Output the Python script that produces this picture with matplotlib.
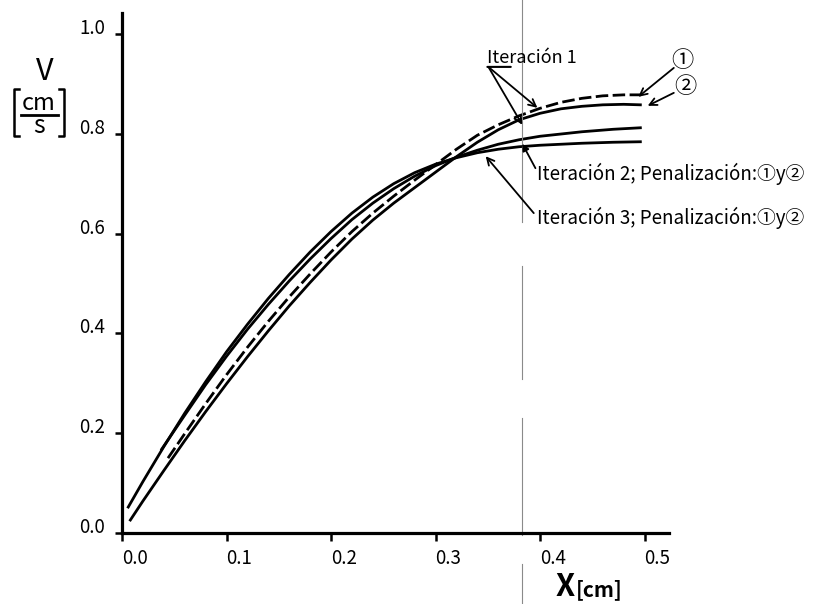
import matplotlib
matplotlib.use("Agg")
import matplotlib.pyplot as plt
from matplotlib.lines import Line2D

# ---------------------------------------------------
# FONTS
# ---------------------------------------------------

plt.rcParams['font.family'] = ['Noto Sans CJK SC', 'DejaVu Sans']

# ---------------------------------------------------
# DATA
# ---------------------------------------------------

# Iteración 1, curva (1) - discontinua
x_it1_a = [0.044, 0.06, 0.08, 0.10, 0.12, 0.14, 0.16, 0.18, 0.20, 0.22, 0.24, 0.26,
           0.28, 0.30, 0.32, 0.34, 0.36, 0.38, 0.40, 0.42, 0.44, 0.46, 0.48, 0.496]
v_it1_a = [0.150, 0.199, 0.259, 0.317, 0.372, 0.424, 0.473, 0.519, 0.563, 0.604, 0.641, 0.675,
           0.707, 0.738, 0.769, 0.797, 0.818, 0.836, 0.851, 0.863, 0.871, 0.876, 0.878, 0.878]

# Iteración 1, curva (2) - continua
x_it1_b = [0.008, 0.02, 0.04, 0.06, 0.08, 0.10, 0.12, 0.14, 0.16, 0.18, 0.20, 0.22, 0.24,
           0.26, 0.28, 0.30, 0.32, 0.34, 0.36, 0.38, 0.40, 0.42, 0.44, 0.46, 0.48, 0.496]
v_it1_b = [0.026, 0.064, 0.125, 0.185, 0.243, 0.299, 0.353, 0.405, 0.455, 0.502, 0.547, 0.589, 0.627,
           0.661, 0.692, 0.723, 0.754, 0.783, 0.808, 0.828, 0.841, 0.850, 0.855, 0.858, 0.859, 0.858]

# Iteración 2
x_it2 = [0.038, 0.06, 0.08, 0.10, 0.12, 0.14, 0.16, 0.18, 0.20, 0.22, 0.24, 0.26,
         0.28, 0.30, 0.32, 0.34, 0.36, 0.38, 0.40, 0.44, 0.47, 0.496]
v_it2 = [0.168, 0.236, 0.297, 0.354, 0.408, 0.458, 0.505, 0.549, 0.590, 0.628, 0.661, 0.690,
         0.715, 0.736, 0.753, 0.767, 0.779, 0.788, 0.795, 0.804, 0.809, 0.812]

# Iteración 3
x_it3 = [0.006, 0.02, 0.04, 0.06, 0.08, 0.10, 0.12, 0.14, 0.16, 0.18, 0.20, 0.22, 0.24,
         0.26, 0.28, 0.30, 0.32, 0.34, 0.36, 0.38, 0.40, 0.44, 0.47, 0.496]
v_it3 = [0.052, 0.103, 0.173, 0.240, 0.303, 0.363, 0.418, 0.470, 0.518, 0.563, 0.604, 0.641, 0.673,
         0.700, 0.722, 0.739, 0.752, 0.762, 0.769, 0.774, 0.777, 0.781, 0.783, 0.784]

x_ticks = [0.0, 0.1, 0.2, 0.3, 0.4, 0.5]
x_tick_labels = ['0.0', '0.1', '0.2', '0.3', '0.4', '0.5']
y_ticks = [0.0, 0.2, 0.4, 0.6, 0.8, 1.0]
y_tick_labels = ['0.0', '0.2', '0.4', '0.6', '0.8', '1.0']

x_marca = 0.383   # linea vertical fina

W, H = 824, 604


def fx(px):
    return px / W


def fy(py):
    return 1 - py / H


# ---------------------------------------------------
# FIGURE
# ---------------------------------------------------

fig = plt.figure(figsize=(W / 100, H / 100), dpi=100)
ax = fig.add_axes([fx(122), fy(533), fx(669) - fx(122), fy(13) - fy(533)])

ax.plot(x_it1_a, v_it1_a, color='k', lw=2.0, dashes=(4.5, 1.6))
ax.plot(x_it1_b, v_it1_b, color='k', lw=2.0)
ax.plot(x_it2, v_it2, color='k', lw=2.0)
ax.plot(x_it3, v_it3, color='k', lw=2.0)

ax.set_xlim(0, 0.5234)
ax.set_ylim(0, 1.042)

for s in ['top', 'right']:
    ax.spines[s].set_visible(False)
for s in ['left', 'bottom']:
    ax.spines[s].set_linewidth(2.3)

ax.set_xticks(x_ticks)
ax.set_xticklabels(x_tick_labels, ha='left')
ax.set_yticks(y_ticks)
ax.set_yticklabels(y_tick_labels, va='baseline')
ax.tick_params(axis='x', length=6, width=1.8, pad=5, labelsize=13.5)
ax.tick_params(axis='y', length=5, width=1.8, pad=7, labelsize=13.5)

# linea vertical fina (con cortes)
tr = ax.get_xaxis_transform()
for y0, y1 in [(1.025, 0.598), (0.513, 0.296), (0.221, -0.004), (-0.060, -0.14)]:
    ax.plot([x_marca, x_marca], [y0, y1], color='#8a8a8a', lw=0.8,
            transform=tr, clip_on=False)

# ---------------------------------------------------
# ANNOTATIONS
# ---------------------------------------------------

arrow = dict(arrowstyle='->', color='k', lw=1.3, shrinkA=0, shrinkB=0, mutation_scale=13)

ax.text(0.3496, 0.942, 'Iteración 1', fontsize=13, ha='left', va='baseline')
ax.annotate('', xy=(0.372, 0.934), xytext=(0.3496, 0.934),
            arrowprops=dict(arrowstyle='-', color='k', lw=1.5, shrinkA=0, shrinkB=0))
ax.annotate('', xy=(0.3975, 0.852), xytext=(0.3506, 0.934), arrowprops=arrow)
ax.annotate('', xy=(0.383, 0.818), xytext=(0.3506, 0.934), arrowprops=arrow)

ax.text(0.536, 0.946, '①', fontsize=16, ha='center', va='center')
ax.text(0.539, 0.894, '②', fontsize=16, ha='center', va='center')
ax.annotate('', xy=(0.494, 0.874), xytext=(0.528, 0.932), arrowprops=arrow)
ax.annotate('', xy=(0.503, 0.856), xytext=(0.528, 0.882), arrowprops=arrow)

ax.text(0.3975, 0.719, 'Iteración 2; Penalización:①y②', fontsize=13.5, ha='left', va='center')
ax.annotate('', xy=(0.383, 0.780), xytext=(0.3956, 0.731),
            arrowprops=dict(arrowstyle='-|>', color='k', lw=1.3, shrinkA=0, shrinkB=0,
                            mutation_scale=10))

ax.text(0.3975, 0.631, 'Iteración 3; Penalización:①y②', fontsize=13.5, ha='left', va='center')
ax.annotate('', xy=(0.348, 0.755), xytext=(0.394, 0.641), arrowprops=arrow)

# ---------------------------------------------------
# AXIS LABELS
# ---------------------------------------------------

fig.text(fx(45), fy(72), 'V', fontsize=22, ha='center', va='center')
fig.text(fx(39), fy(104), 'cm', fontsize=17, ha='center', va='center')
fig.text(fx(39), fy(126), 's', fontsize=18, ha='center', va='center')
fig.add_artist(Line2D([fx(21), fx(58)], [fy(115), fy(115)], color='k', lw=2))
for xb, xs in [(14, 19), (64, 59)]:
    fig.add_artist(Line2D([fx(xs), fx(xb), fx(xb), fx(xs)],
                          [fy(89), fy(89), fy(136), fy(136)], color='k', lw=1.8))

fig.text(fx(556), fy(596), 'X', fontsize=22, fontweight='bold', ha='left', va='baseline')
fig.text(fx(576), fy(596), '[cm]', fontsize=15, fontweight='bold', ha='left', va='baseline')

fig.savefig('out.png', dpi=100)
